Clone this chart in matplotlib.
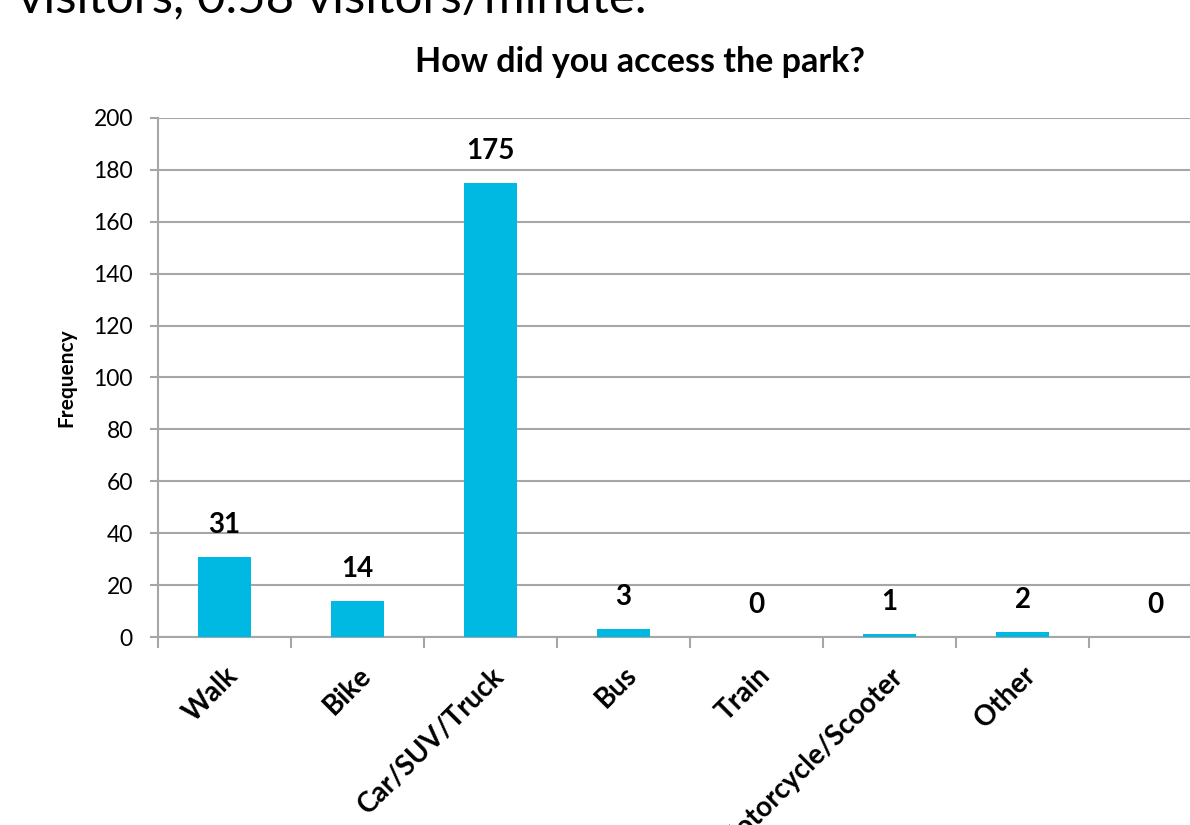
import matplotlib
matplotlib.use("Agg")
import matplotlib.pyplot as plt
import matplotlib.transforms as mtrans

categories = ["Walk", "Bike", "Car/SUV/Truck", "Bus", "Train", "Motorcycle/Scooter", "Other", ""]
values = [31, 14, 175, 3, 0, 1, 2, 0]
yticks = [0, 20, 40, 60, 80, 100, 120, 140, 160, 180, 200]

plt.rcParams['font.family'] = ['Lato', 'DejaVu Sans']

fig = plt.figure(figsize=(11.9, 8.25), dpi=100)
ax = fig.add_axes([158/1190, 1-637/825, (1222-158)/1190, (637-118)/825])

x = list(range(len(categories)))
ax.bar(x, values, width=0.4, color='#00B9E3', zorder=3)

grid_c = '#A6A6A6'
ax.set_ylim(0, 200)
ax.set_xlim(-0.5, len(categories)-0.5)
ax.set_yticks(yticks)
ax.set_yticklabels([str(v) for v in yticks], fontsize=16.5)
ax.yaxis.grid(True, color=grid_c, linewidth=1.5, zorder=0)
ax.set_axisbelow(True)
for s in ['top', 'right']:
    ax.spines[s].set_visible(False)
for s in ['left', 'bottom']:
    ax.spines[s].set_color(grid_c)
    ax.spines[s].set_linewidth(1.5)

ax.tick_params(axis='y', length=6, width=1.5, color=grid_c, pad=12)
ax.set_xticks([i - 0.5 for i in range(len(categories)+1)], minor=False)
ax.set_xticklabels([])
ax.tick_params(axis='x', which='major', length=8, width=1.5, color=grid_c)
ax.set_xticks(x, minor=True)
ax.set_xticklabels(categories, minor=True, rotation=45, ha='right',
                   rotation_mode='anchor', fontsize=20, fontweight='bold')
ax.tick_params(axis='x', which='minor', length=0, pad=18)
for lbl in ax.get_xticklabels(minor=True):
    lbl.set_transform(lbl.get_transform() + mtrans.ScaledTranslation(0, 0, fig.dpi_scale_trans))

for xi, v in zip(x, values):
    ax.annotate(str(v), (xi, v), xytext=(0, 23), textcoords='offset points',
                ha='center', va='center', fontsize=20, fontweight='bold')

ax.set_ylabel("Frequency", fontsize=15, fontweight='bold', labelpad=12)

fig.text(640/1190, 1-62/825, "How did you access the park?", ha='center', va='center',
         fontsize=24.5, fontweight='bold')
fig.text(18/1190, 1-12/825, "visitors, 0.58 visitors/minute.", ha='left', va='baseline',
         fontsize=35.5)

fig.savefig("out.png", dpi=100)
